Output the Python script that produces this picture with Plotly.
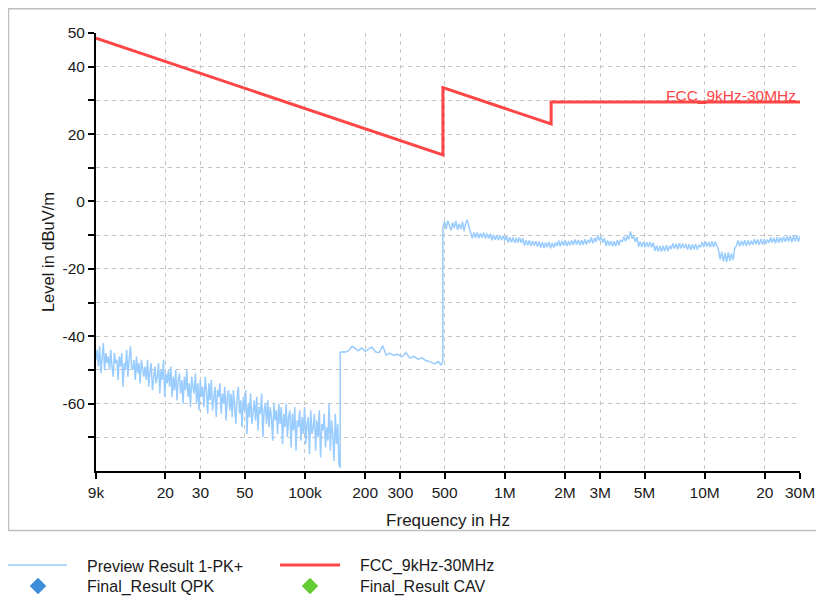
import numpy as np
import plotly.graph_objects as go

# ---------------- data ----------------
# FCC limit line (frequency in Hz, level in dBuV/m)
limit_freq = [9e3, 490e3, 490e3, 1.705e6, 1.705e6, 30e6]
limit_level = [48.5, 13.8, 33.8, 23.0, 29.5, 29.5]

# Preview Result 1-PK+ : 9 kHz - 150 kHz (dense noisy sweep)
pk_low_level = [
    -47, -44, -49, -43, -51, -46, -42, -50, -45, -48,
    -46, -50, -44, -49, -52, -45, -48, -47, -53, -46,
    -49, -45, -55, -48, -50, -44, -52, -47, -43, -49,
    -50, -47, -53, -46, -51, -48, -54, -47, -50, -52,
    -49, -53, -47, -55, -50, -48, -56, -51, -49, -54,
    -52, -48, -57, -50, -53, -47, -58, -51, -54, -50,
    -55, -49, -58, -52, -56, -50, -59, -53, -51, -57,
    -53, -60, -52, -56, -50, -58, -54, -61, -52, -55,
    -57, -51, -60, -54, -62, -53, -58, -55, -61, -52,
    -56, -63, -54, -59, -53, -62, -57, -55, -64, -56,
    -58, -54, -63, -57, -60, -55, -65, -58, -56, -62,
    -57, -64, -56, -60, -66, -58, -55, -63, -59, -67,
    -58, -62, -56, -69, -60, -64, -57, -66, -61, -59,
    -65, -58, -68, -61, -63, -57, -70, -62, -60, -66,
    -59, -67, -61, -64, -71, -60, -65, -62, -69, -60,
    -66, -61, -72, -63, -67, -60, -70, -64, -62, -73,
    -63, -68, -61, -74, -65, -67, -62, -71, -64, -69,
    -61, -72, -66, -64, -75, -62, -69, -67, -63, -74,
    -65, -70, -62, -76, -66, -68, -63, -73, -67, -71,
    -60, -74, -65, -69, -77, -63, -72, -66, -78, -79,
]

# Preview Result 1-PK+ : 150 kHz - 490 kHz
pk_mid_freq = [150e3, 155e3, 160e3, 166e3, 172e3, 178e3, 185e3, 192e3, 200e3, 208e3,
               216e3, 225e3, 235e3, 245e3, 255e3, 265e3, 278e3, 290e3, 305e3, 320e3,
               335e3, 350e3, 368e3, 385e3, 405e3, 425e3, 445e3, 465e3, 480e3, 490e3]
pk_mid_level = [-44.8, -44.6, -44.7, -44.2, -43.0, -43.6, -44.3, -43.4, -44.5, -43.8,
                -43.2, -44.6, -44.9, -42.8, -45.6, -45.0, -45.7, -45.3, -46.1, -44.9,
                -46.5, -46.0, -46.8, -46.4, -47.3, -47.6, -48.2, -47.5, -48.6, -47.2]

# Preview Result 1-PK+ : 490 kHz - 30 MHz
pk_high_level = [
    -7.7, -5.9, -8.2, -5.7, -7.6, -8.6, -6.2, -7.9, -5.8, -8.4,
    -6.6, -8.2, -6.0, -8.8, -6.3, -5.5, -7.6, -9.4, -10.9, -9.2,
    -10.8, -9.2, -10.9, -9.4, -10.8, -9.3, -11.0, -9.5, -10.9, -9.6,
    -11.5, -9.9, -11.4, -10.0, -11.5, -10.1, -11.4, -10.2, -11.6, -10.3,
    -12.2, -10.6, -12.1, -10.7, -12.3, -10.8, -12.2, -10.7, -12.3, -10.9,
    -13.1, -11.5, -13.0, -11.6, -13.2, -11.7, -13.1, -11.8, -13.4, -11.9,
    -13.7, -12.1, -13.8, -12.2, -13.6, -12.0, -13.9, -12.3, -13.7, -12.2,
    -13.2, -11.6, -13.3, -11.7, -13.1, -11.5, -13.2, -11.8, -13.0, -11.6,
    -12.9, -11.3, -12.8, -11.4, -13.0, -11.5, -12.9, -11.2, -12.8, -11.4,
    -12.3, -10.7, -12.4, -10.8, -12.0, -10.0, -11.6, -10.5, -12.2, -10.9,
    -13.2, -11.6, -13.1, -11.7, -13.3, -11.8, -13.2, -11.5, -13.0, -11.4,
    -12.0, -10.5, -11.8, -10.3, -11.2, -8.9, -11.0, -10.4, -12.0, -10.6,
    -13.4, -11.9, -13.5, -12.0, -13.6, -12.1, -13.5, -12.0, -13.6, -12.2,
    -14.7, -13.1, -14.8, -13.2, -14.9, -13.1, -14.8, -13.0, -14.7, -13.2,
    -14.1, -12.5, -14.0, -12.6, -14.2, -12.4, -14.0, -12.5, -13.9, -12.6,
    -14.3, -12.7, -14.4, -12.8, -14.2, -12.6, -14.3, -12.9, -13.6, -12.0,
    -13.5, -11.9, -13.4, -12.0, -13.6, -11.8, -13.5, -12.0, -13.3, -14.4,
    -17.2, -15.0, -17.8, -15.3, -18.0, -15.1, -17.6, -15.4, -17.4, -13.8,
    -13.2, -11.6, -13.3, -11.7, -13.1, -11.5, -13.2, -11.6, -13.0, -11.7,
    -12.8, -11.2, -12.7, -11.3, -12.9, -11.1, -12.8, -11.2, -12.6, -11.3,
    -12.3, -10.7, -12.2, -10.8, -12.4, -10.6, -12.3, -10.7, -12.1, -10.5,
    -12.0, -10.4, -11.9, -10.2, -12.1, -10.3, -11.8, -9.9, -12.0, -10.2,
]

# sweep frequency grids (log-spaced receiver steps)
pk_low_freq = np.geomspace(9e3, 150e3, len(pk_low_level))
pk_high_freq = np.geomspace(490e3, 30e6, len(pk_high_level))

x_tick_vals = [9e3, 2e4, 3e4, 5e4, 1e5, 2e5, 3e5, 5e5, 1e6, 2e6, 3e6, 5e6, 1e7, 2e7, 3e7]
x_tick_text = ['9k', '20', '30', '50', '100k', '200', '300', '500',
               '1M', '2M', '3M', '5M', '10M', '20', '30M']
y_tick_vals = [50, 40, 30, 20, 10, 0, -10, -20, -30, -40, -50, -60, -70]
y_tick_text = ['50', '40', '', '20', '', '0', '', '-20', '', '-40', '', '-60', '']

legend_names = ['Preview Result 1-PK+', 'FCC_9kHz-30MHz', 'Final_Result QPK', 'Final_Result CAV']

# ---------------- styling ----------------
BLUE = '#99CCFF'
RED = '#FF4646'
QPK_COLOR = '#3D8FDB'
CAV_COLOR = '#66CC33'
FONT = 'Liberation Sans, Arial, sans-serif'
TXT = '#1a1a1a'

# the page body adds an 8px margin, so the figure is sized/positioned to compensate
OFF = 8
W, H = 824 - OFF, 601 - OFF
L, R, T, B = 96 - OFF, 24, 33 - OFF, 130
PW, PH = W - L - R, H - T - B


def px(x):  # page pixel -> paper x
    return (x - OFF - L) / PW


def py(y):  # page pixel -> paper y
    return (H - B - (y - OFF)) / PH


pk_freq = np.concatenate([pk_low_freq, pk_mid_freq, pk_high_freq])
pk_level = np.concatenate([pk_low_level, pk_mid_level, pk_high_level])

fig = go.Figure()
fig.add_trace(go.Scatter(x=pk_freq, y=pk_level, mode='lines', name=legend_names[0],
                         line=dict(color=BLUE, width=1.5), showlegend=False))
fig.add_trace(go.Scatter(x=limit_freq, y=limit_level, mode='lines', name=legend_names[1],
                         line=dict(color=RED, width=3), showlegend=False))
fig.add_trace(go.Scatter(x=[], y=[], mode='markers', name=legend_names[2],
                         marker=dict(symbol='diamond', color=QPK_COLOR, size=12), showlegend=False))
fig.add_trace(go.Scatter(x=[], y=[], mode='markers', name=legend_names[3],
                         marker=dict(symbol='diamond', color=CAV_COLOR, size=12), showlegend=False))

axis_common = dict(
    showgrid=True, gridcolor='#C4C4C4', gridwidth=1, griddash='4px,4px',
    showline=True, linecolor='black', linewidth=2,
    ticks='outside', ticklen=6, tickwidth=1.5, tickcolor='black',
    zeroline=False, tickfont=dict(family=FONT, size=15.5, color=TXT),
    automargin=False,
)

fig.update_xaxes(type='log', range=[np.log10(9e3), np.log10(30e6)],
                 tickmode='array', tickvals=x_tick_vals, ticktext=x_tick_text,
                 title=dict(text='Frequency in Hz', standoff=15,
                            font=dict(family=FONT, size=17, color=TXT)),
                 **axis_common)
fig.update_yaxes(range=[-80, 50], tickmode='array', tickvals=y_tick_vals, ticktext=y_tick_text,
                 title=dict(text='Level in dBuV/m', standoff=4,
                            font=dict(family=FONT, size=16.5, color=TXT)),
                 **axis_common)

shapes = [
    # outer frame of the chart panel
    dict(type='rect', xref='paper', yref='paper', x0=px(8.5), x1=px(822.5), y0=py(530.5), y1=py(8.8),
         line=dict(color='#BEBEBE', width=1.5), layer='below'),
    # legend samples
    dict(type='line', xref='paper', yref='paper', x0=px(8), x1=px(67), y0=py(565), y1=py(565),
         line=dict(color=BLUE, width=1.5)),
    dict(type='line', xref='paper', yref='paper', x0=px(280), x1=px(340), y0=py(565), y1=py(565),
         line=dict(color=RED, width=3)),
]


def diamond(cx, cy, r, color):
    path = 'M {:.5f},{:.5f} L {:.5f},{:.5f} L {:.5f},{:.5f} L {:.5f},{:.5f} Z'.format(
        px(cx), py(cy - r), px(cx + r), py(cy), px(cx), py(cy + r), px(cx - r), py(cy))
    return dict(type='path', xref='paper', yref='paper', path=path,
                fillcolor=color, line=dict(color=color, width=0.5))


shapes.append(diamond(38, 586, 8, QPK_COLOR))
shapes.append(diamond(310, 586, 8, CAV_COLOR))

annotations = [
    dict(x=np.log10(30e6), y=29.5, xref='x', yref='y', text=legend_names[1], showarrow=False,
         xanchor='right', yanchor='bottom', xshift=-2, yshift=-4,
         font=dict(family=FONT, size=15.5, color=RED)),
]
for text, x0, y0 in [(legend_names[0], 85, 566), (legend_names[1], 358, 566),
                     (legend_names[2], 85, 587), (legend_names[3], 358, 587)]:
    annotations.append(dict(x=px(x0), y=py(y0), xref='paper', yref='paper', text=text,
                            showarrow=False, xanchor='left', yanchor='middle',
                            font=dict(family=FONT, size=16, color=TXT)))

fig.update_layout(
    width=W, height=H,
    margin=dict(l=L, r=R, t=T, b=B),
    paper_bgcolor='white', plot_bgcolor='white',
    shapes=shapes, annotations=annotations,
    showlegend=False,
    font=dict(family=FONT, color=TXT),
)

fig.write_html('out.html')
